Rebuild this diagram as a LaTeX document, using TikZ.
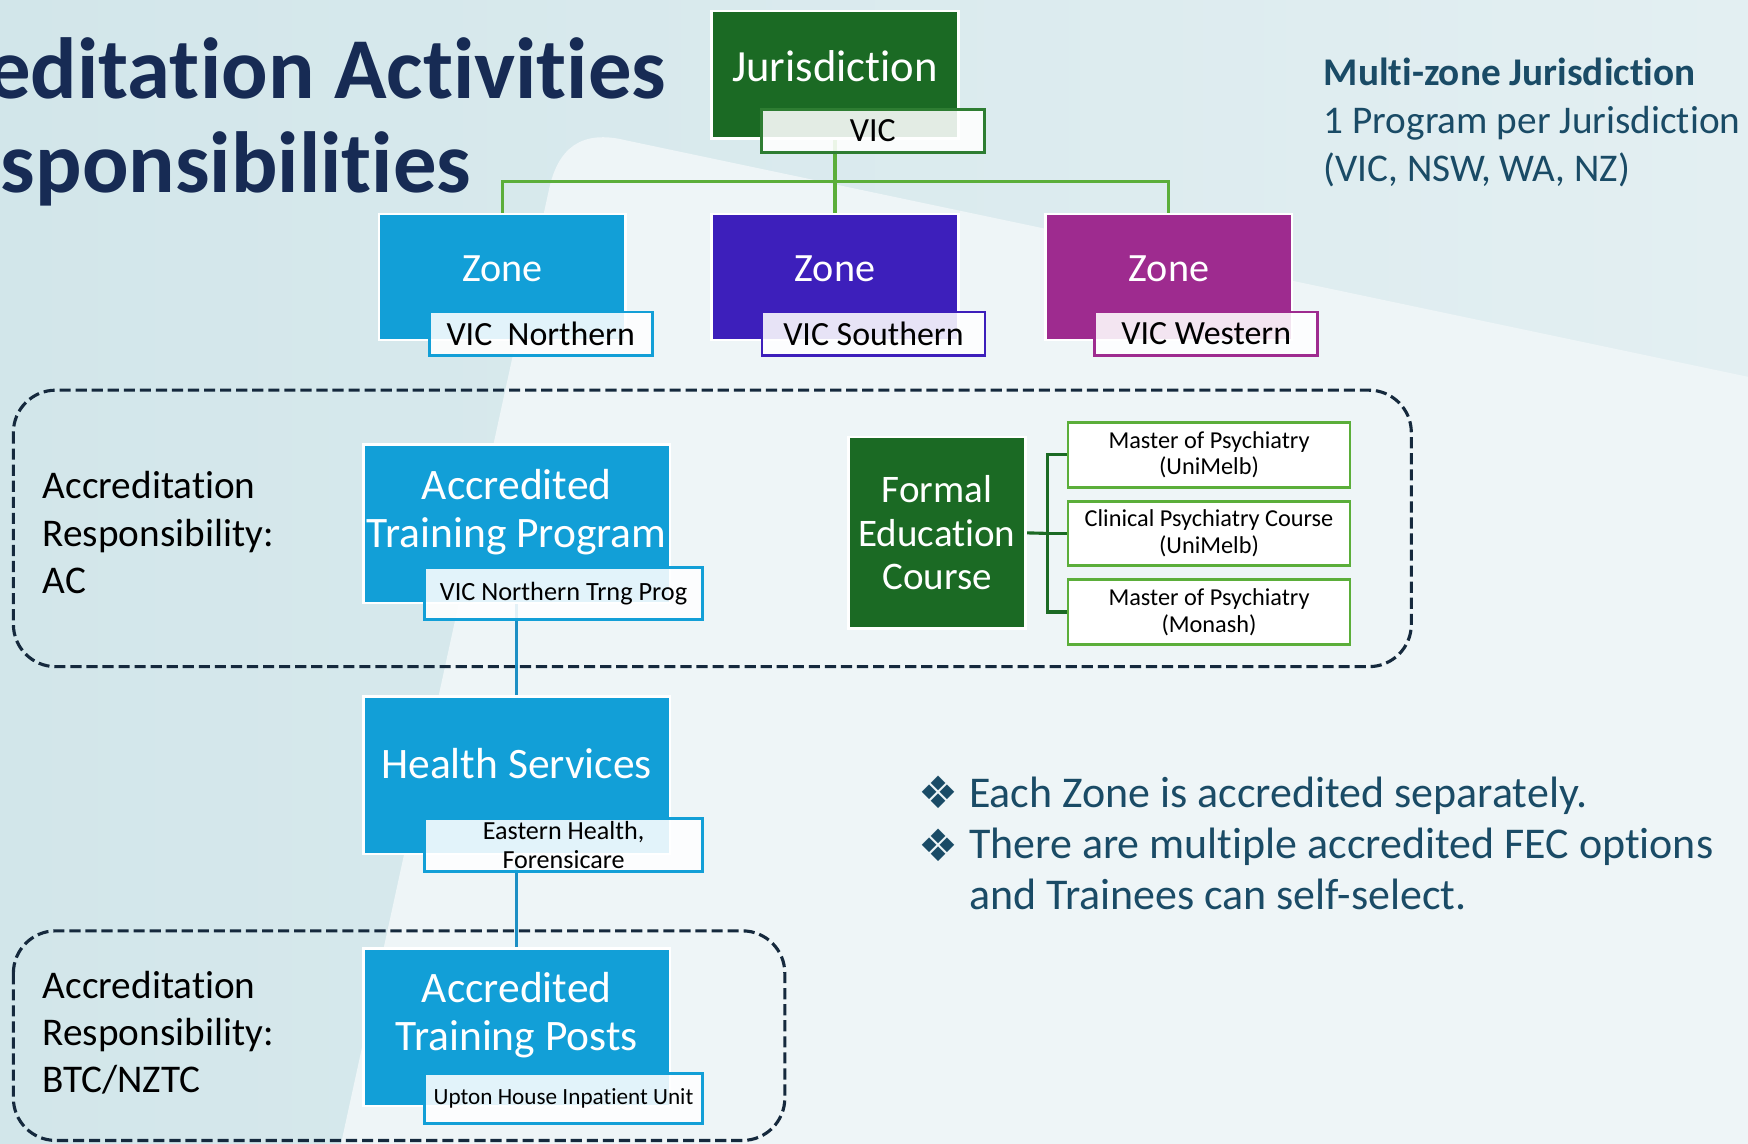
\documentclass[tikz,border=0pt]{standalone}
\usepackage{fontspec}
\setmainfont{Carlito}[Ligatures=NoCommon]
\newfontfamily\symfont{DejaVu Sans}
\usetikzlibrary{calc}
\pgfdeclarelayer{back}
\pgfdeclarelayer{wires}
\pgfsetlayers{back,wires,main}
\definecolor{bgL}{HTML}{D2E6EA}
\definecolor{bgR}{HTML}{E3EFF2}
\definecolor{bgLight}{HTML}{EEF5F7}
\definecolor{navy}{HTML}{172B54}
\definecolor{txtteal}{HTML}{1A4B66}
\definecolor{dgreen}{HTML}{1B6A24}
\definecolor{vicgreen}{HTML}{2E7D32}
\definecolor{lgreen}{HTML}{5BAE3A}
\definecolor{zblue}{HTML}{129FD7}
\definecolor{wblue}{HTML}{1C8FC4}
\definecolor{zindigo}{HTML}{3D1FBB}
\definecolor{zmagenta}{HTML}{9E2B8F}
\definecolor{dashc}{HTML}{15293D}
\tikzset{
  box/.style={draw=white, line width=1.2pt, inner sep=0pt},
  boxtext/.style={text=white, align=center, inner sep=0pt},
  bigfont/.style={font=\fontsize{19.5}{21.5}\selectfont},
  tag/.style={fill=white, fill opacity=0.88, text opacity=1, line width=1.2pt,
    inner sep=0pt, align=center, text=black},
  zonetag/.style={tag, minimum width=100pt, minimum height=19.5pt,
    font=\fontsize{15.2}{18}\selectfont},
  opt/.style={fill=white, draw=lgreen, line width=1.3pt, inner sep=0pt,
    align=center, minimum width=126.5pt, minimum height=29pt,
    font=\fontsize{10.9}{12}\selectfont},
  wire/.style={line width=1.4pt},
  region/.style={draw=dashc, line width=1.4pt, dash pattern=on 5pt off 2.2pt,
    rounded corners=19pt},
  sidetext/.style={anchor=base west, inner sep=0pt, font=\fontsize{17.6}{21}\selectfont},
  note/.style={anchor=base west, inner sep=0pt, text=txtteal},
  diamonds/.style={text=txtteal, inner sep=0pt, font=\symfont\fontsize{20}{24}\selectfont},
}
\begin{document}
\begin{tikzpicture}[x=0.5pt,y=-0.5pt]
\useasboundingbox (0,0) rectangle (1568,1026);

% backdrop
\begin{pgfonlayer}{back}
  \shade[left color=bgL, right color=bgR] (0,0) rectangle (1568,1026);
  \fill[bgLight] (305,1030) -- (492,172) .. controls (500,132) and (522,116) .. (562,126)
    -- (1568,338) -- (1568,1030) -- cycle;
\end{pgfonlayer}

% title
\node[anchor=base east, inner sep=0pt, text=navy, font=\bfseries\fontsize{38.9}{42}\selectfont] (title1) at (598,88) {editation Activities};
\node[anchor=base east, inner sep=0pt, text=navy, font=\bfseries\fontsize{38.9}{42}\selectfont] (title2) at (423,173) {sponsibilities};

% jurisdiction
\node[box, fill=dgreen, minimum width=111pt, minimum height=57pt] (jur) at (749,67) {};
\node[boxtext, font=\fontsize{20}{24}\selectfont] (jur-t) at (749,59) {Jurisdiction};
\node[zonetag, draw=vicgreen] (vic) at (783,117.5) {VIC};

% zones
\node[box, fill=zblue, minimum width=110.5pt, minimum height=56.5pt] (zn) at (450.5,248.5) {};
\node[boxtext, font=\fontsize{18}{22}\selectfont] (zn-t) at (450.5,241) {Zone};
\node[zonetag, draw=zblue] (zn-tag) at (485,299.5) {VIC\ \ Northern};

\node[box, fill=zindigo, minimum width=110.5pt, minimum height=56.5pt] (zs) at (749,248.5) {};
\node[boxtext, font=\fontsize{18}{22}\selectfont] (zs-t) at (749,241) {Zone};
\node[zonetag, draw=zindigo] (zs-tag) at (783.5,299.5) {VIC Southern};

\node[box, fill=zmagenta, minimum width=110.5pt, minimum height=56.5pt] (zw) at (1048.5,248.5) {};
\node[boxtext, font=\fontsize{18}{22}\selectfont] (zw-t) at (1048.5,241) {Zone};
\node[zonetag, draw=zmagenta] (zw-tag) at (1082,299.5) {VIC Western};

\coordinate (bus) at (749,163);
\begin{pgfonlayer}{wires}
  \draw[wire, lgreen] (jur.south) -- (bus);
  \draw[wire, lgreen] (zn.north) |- (bus) -| (zw.north);
  \draw[wire, lgreen] (bus) -- (zs.north);
\end{pgfonlayer}

% multi-zone note
\node[note, font=\bfseries\fontsize{17.6}{21}\selectfont] (mz1) at (1187,77) {Multi-zone Jurisdiction};
\node[note, font=\fontsize{17.6}{21}\selectfont] (mz2) at (1187,120) {1 Program per Jurisdiction};
\node[note, font=\fontsize{17.6}{21}\selectfont] (mz3) at (1187,163) {(VIC, NSW, WA, NZ)};

% accreditation regions
\draw[region] (12,350) rectangle (1266,598);
\draw[region] (12,835) rectangle (704,1023);

\node[sidetext] (ac1) at (38,447) {Accreditation};
\node[sidetext] (ac2) at (38,490) {Responsibility:};
\node[sidetext] (ac3) at (38,532) {AC};

\node[sidetext] (bt1) at (38,896) {Accreditation};
\node[sidetext] (bt2) at (38,938) {Responsibility:};
\node[sidetext] (bt3) at (38,980) {BTC/NZTC};

% training program chain
\node[box, fill=zblue, minimum width=137.5pt, minimum height=71pt] (atp) at (463.5,470) {};
\node[boxtext, bigfont] (atp-t) at (463.5,459.5) {Accredited\\Training Program};
\node[tag, draw=zblue, minimum width=124.5pt, minimum height=23.5pt, font=\fontsize{11.8}{13}\selectfont] (atp-tag) at (505.5,532.5) {VIC Northern Trng Prog};

\node[box, fill=zblue, minimum width=137.5pt, minimum height=70.5pt] (hs) at (463.5,695.5) {};
\node[boxtext, bigfont] (hs-t) at (463.5,685) {Health Services};
\node[tag, draw=zblue, minimum width=124.5pt, minimum height=24pt, font=\fontsize{11.7}{13}\selectfont] (hs-tag) at (505.5,758) {Eastern Health,\\Forensicare};

\node[box, fill=zblue, minimum width=137.5pt, minimum height=70.5pt] (atps) at (463.5,921.5) {};
\node[boxtext, bigfont] (atps-t) at (463.5,910.5) {Accredited\\Training Posts};
\node[tag, draw=zblue, minimum width=124.5pt, minimum height=22.5pt, font=\fontsize{10.4}{12}\selectfont] (atps-tag) at (505.5,985.5) {Upton House Inpatient Unit};

\begin{pgfonlayer}{wires}
  \draw[wire, wblue] (atp.south) -- (hs.north);
  \draw[wire, wblue] (hs.south) -- (atps.north);
\end{pgfonlayer}

% formal education course
\node[box, fill=dgreen, minimum width=79.5pt, minimum height=86pt] (fec) at (840.5,478) {};
\node[boxtext, font=\fontsize{17.5}{19.5}\selectfont] (fec-t) at (840.5,478) {Formal\\Education\\Course};

\node[opt] (o1) at (1084.5,408) {Master of Psychiatry\\(UniMelb)};
\node[opt] (o2) at (1084.5,478.5) {Clinical Psychiatry Course\\(UniMelb)};
\node[opt] (o3) at (1084.5,549) {Master of Psychiatry\\(Monash)};

\coordinate (fork) at (940,478.5);
\begin{pgfonlayer}{wires}
  \draw[wire, dgreen] (fec.east) -- (fork);
  \draw[wire, dgreen] (o1.west) -| (fork);
  \draw[wire, dgreen] (o2.west) -- (fork);
  \draw[wire, dgreen] (o3.west) -| (fork);
\end{pgfonlayer}

% bullet notes
\node[diamonds] (bl1) at (842,711) {❖};
\node[diamonds] (bl2) at (842,758) {❖};
\node[note, font=\fontsize{19.7}{23}\selectfont] (n1) at (869,724) {Each Zone is accredited separately.};
\node[note, font=\fontsize{19.7}{23}\selectfont] (n2) at (869,770) {There are multiple accredited FEC options};
\node[note, font=\fontsize{19.7}{23}\selectfont] (n3) at (869,816) {and Trainees can self-select.};
\end{tikzpicture}
\end{document}
